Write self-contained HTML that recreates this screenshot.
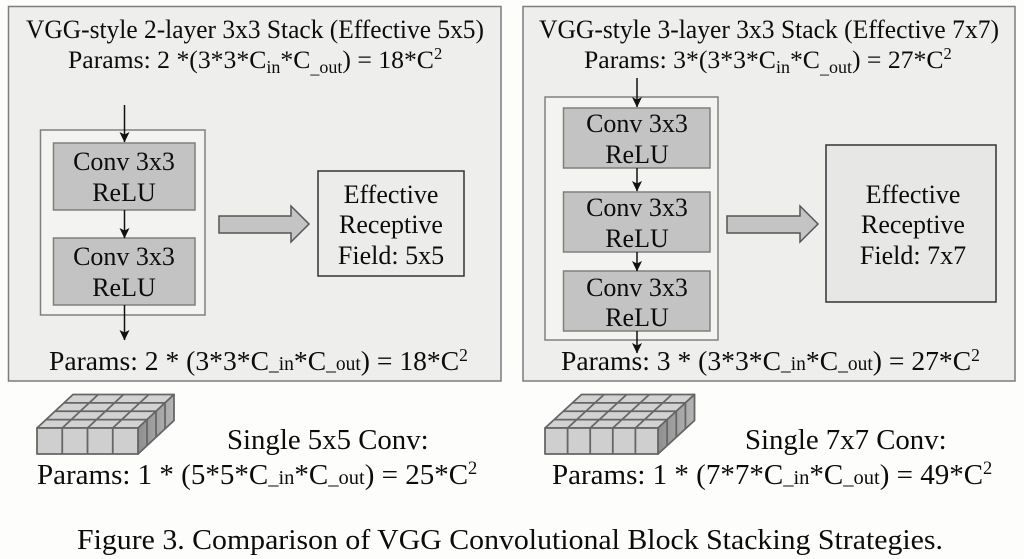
<!DOCTYPE html>
<html><head><meta charset="utf-8"><style>
html,body{margin:0;padding:0;background:#fdfdfc;width:1024px;height:559px;overflow:hidden}
svg{display:block;filter:blur(.3px)}
text{font-family:"Liberation Serif",serif;fill:#0c0c0c;font-size:26px}
.s{font-size:18px}
.u{font-size:16.5px}
.c{text-anchor:middle}
.t{font-size:26.5px}
.p1{font-size:25.7px}
.p2{font-size:27.6px}
.p2 .s{font-size:19.5px}
.p2 .u{font-size:17.5px}
.p3{font-size:29px}
.p3 .s{font-size:20.5px}
.p3 .u{font-size:18.5px}
.n{font-size:28.8px}
.f{font-size:28.5px}
</style></head><body>
<svg width="1024" height="559" viewBox="0 0 1024 559" xmlns="http://www.w3.org/2000/svg">
<defs><marker id="a" markerWidth="11" markerHeight="10" refX="10" refY="5" orient="auto" markerUnits="userSpaceOnUse"><path d="M0 0L10.5 5L0 10L2.5 5Z" fill="#111"/></marker>
<linearGradient id="g" x1="0" y1="0" x2="1" y2="0"><stop offset="0" stop-color="#8f8f8f"/><stop offset="1" stop-color="#b5b5b5"/></linearGradient></defs>
<!-- panels -->
<rect x="8.5" y="6.5" width="492.5" height="374.5" fill="#eeeeed" stroke="#7d7d7d" stroke-width="1.5"/>
<rect x="523" y="6.5" width="492" height="374.5" fill="#eeeeed" stroke="#7d7d7d" stroke-width="1.5"/>
<!-- left stack -->
<rect x="40.5" y="130" width="164.5" height="185" fill="#f3f3f2" stroke="#808080" stroke-width="1.5"/>
<rect x="53.5" y="143" width="141.5" height="67" fill="#c3c3c3" stroke="#7f7f7f" stroke-width="1.5"/>
<rect x="53.5" y="238" width="141.5" height="67" fill="#c3c3c3" stroke="#7f7f7f" stroke-width="1.5"/>
<rect x="318" y="171" width="146" height="105" fill="#ececeb" stroke="#333" stroke-width="1.5"/>
<path d="M219 216H291V206L309 224L291 242V233H219Z" fill="#c4c4c4" stroke="#555" stroke-width="1.5"/>
<g stroke="#111" stroke-width="1.5" fill="none">
<line x1="124.5" y1="105" x2="124.5" y2="142" marker-end="url(#a)"/>
<line x1="124.5" y1="210" x2="124.5" y2="238" marker-end="url(#a)"/>
<line x1="124.5" y1="305" x2="124.5" y2="340" marker-end="url(#a)"/>
</g>
<!-- right stack -->
<rect x="545" y="97" width="173" height="243" fill="#f3f3f2" stroke="#808080" stroke-width="1.5"/>
<rect x="563.5" y="108" width="146.5" height="60" fill="#c3c3c3" stroke="#7f7f7f" stroke-width="1.5"/>
<rect x="563.5" y="192" width="146.5" height="60" fill="#c3c3c3" stroke="#7f7f7f" stroke-width="1.5"/>
<rect x="563.5" y="271" width="146.5" height="60" fill="#c3c3c3" stroke="#7f7f7f" stroke-width="1.5"/>
<rect x="826" y="145" width="170" height="157" fill="#e7e7e6" stroke="#333" stroke-width="1.5"/>
<path d="M727 216H800V206L818 224L800 242V233H727Z" fill="#c4c4c4" stroke="#555" stroke-width="1.5"/>
<g stroke="#111" stroke-width="1.5" fill="none">
<line x1="637" y1="78" x2="637" y2="107" marker-end="url(#a)"/>
<line x1="637" y1="168" x2="637" y2="191" marker-end="url(#a)"/>
<line x1="637" y1="252" x2="637" y2="271" marker-end="url(#a)"/>
<line x1="637" y1="331" x2="637" y2="353" marker-end="url(#a)"/>
</g>
<!-- left cube -->
<g stroke="#666" stroke-width="1.8" stroke-linejoin="round">
<path d="M37 428L73 394.5H174L138 428Z" fill="#d2d2d2"/>
<path d="M138 428L174 394.5V420.5L138 454Z" fill="url(#g)"/>
<rect x="37" y="428" width="101" height="26" fill="#cfcfcf"/>
<path fill="none" d="M46 419.6H147M55 411.25H156M64 402.9H165M62.25 428L98.25 394.5M87.5 428L123.5 394.5M112.75 428L148.75 394.5M147 419.6V445.6M156 411.25V437.25M165 402.9V428.9M62.25 428V454M87.5 428V454M112.75 428V454"/>
</g>
<!-- right cube -->
<g stroke="#666" stroke-width="1.8" stroke-linejoin="round">
<path d="M545 428L581.5 394.5H694.5L658 428Z" fill="#d2d2d2"/>
<path d="M658 428L694.5 394.5V420.5L658 454Z" fill="url(#g)"/>
<rect x="545" y="428" width="113" height="26" fill="#cfcfcf"/>
<path fill="none" d="M554.1 419.6H667.1M563.25 411.25H676.25M572.4 402.9H685.4M567.6 428L604.1 394.5M590.2 428L626.7 394.5M612.8 428L649.3 394.5M635.4 428L671.9 394.5M667.1 419.6V445.6M676.25 411.25V437.25M685.4 402.9V428.9M567.6 428V454M590.2 428V454M612.8 428V454M635.4 428V454"/>
</g>
<!-- text left -->
<text class="t" x="26" y="38" textLength="458" lengthAdjust="spacingAndGlyphs">VGG-style 2-layer 3x3 Stack (Effective 5x5)</text>
<text class="p1" x="68" y="68">Params: 2 *(3*3*C<tspan class="s" dy="5">in</tspan><tspan dy="-5">*C</tspan><tspan class="s" dy="5">_out</tspan><tspan dy="-5">) = 18*C</tspan><tspan class="u" dy="-9">2</tspan></text>
<g>
<text class="c" x="124" y="170">Conv 3x3</text><text class="c" x="124" y="201">ReLU</text>
<text class="c" x="124" y="265">Conv 3x3</text><text class="c" x="124" y="296">ReLU</text>
<text class="c" x="391" y="203">Effective</text><text class="c" x="391" y="233">Receptive</text><text class="c" x="391" y="264">Field: 5x5</text>
<text class="c" x="637" y="132">Conv 3x3</text><text class="c" x="637" y="163">ReLU</text>
<text class="c" x="637" y="216">Conv 3x3</text><text class="c" x="637" y="247">ReLU</text>
<text class="c" x="637" y="296">Conv 3x3</text><text class="c" x="637" y="326">ReLU</text>
<text class="c" x="913" y="203">Effective</text><text class="c" x="913" y="233">Receptive</text><text class="c" x="913" y="264">Field: 7x7</text>
</g>
<text class="p2" x="49" y="370">Params: 2 * (3*3*C<tspan class="s">_in</tspan>*C<tspan class="s">_out</tspan>) = 18*C<tspan class="u" dy="-9">2</tspan></text>
<!-- text right -->
<text class="t" x="539" y="38" textLength="460" lengthAdjust="spacingAndGlyphs">VGG-style 3-layer 3x3 Stack (Effective 7x7)</text>
<text class="p1" x="584" y="68">Params: 3*(3*3*C<tspan class="s" dy="5">in</tspan><tspan dy="-5">*C</tspan><tspan class="s" dy="5">_out</tspan><tspan dy="-5">) = 27*C</tspan><tspan class="u" dy="-9">2</tspan></text>
<text class="p2" x="561" y="370">Params: 3 * (3*3*C<tspan class="s">_in</tspan>*C<tspan class="s">_out</tspan>) = 27*C<tspan class="u" dy="-9">2</tspan></text>
<!-- bottom -->
<text class="n" x="227" y="449">Single 5x5 Conv:</text>
<text class="n" x="745" y="449">Single 7x7 Conv:</text>
<text class="p3" x="37" y="484">Params: 1 * (5*5*C<tspan class="s">_in</tspan>*C<tspan class="s">_out</tspan>) = 25*C<tspan class="u" dy="-10">2</tspan></text>
<text class="p3" x="552" y="484">Params: 1 * (7*7*C<tspan class="s">_in</tspan>*C<tspan class="s">_out</tspan>) = 49*C<tspan class="u" dy="-10">2</tspan></text>
<text class="f" x="77" y="549" textLength="866" lengthAdjust="spacingAndGlyphs">Figure 3. Comparison of VGG Convolutional Block Stacking Strategies.</text>
</svg>
</body></html>
